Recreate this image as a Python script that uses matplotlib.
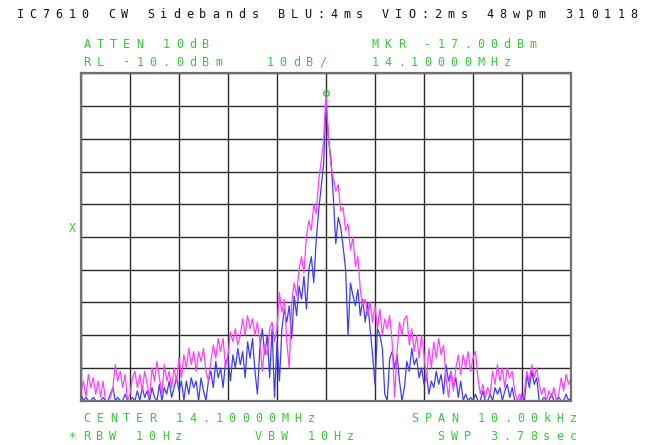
import numpy as np
import matplotlib.pyplot as plt

# frequency offset from 14.10000 MHz, in kHz (201 analyzer bins over the 10 kHz span)
freq_khz = np.linspace(-5, 5, 201)

# trace levels in dBm (magenta = upper trace, blue = lower trace)
magenta_db = [
    -107, -104, -109, -102, -106, -103, -108, -104, -109, -104,
    -110, -110, -109, -106, -99, -104, -101, -106, -102, -110,
    -108, -103, -101, -106, -102, -107, -101, -105, -109, -100,
    -104, -98, -103, -108, -99, -104, -101, -106, -100, -104,
    -97, -103, -96, -100, -94, -99, -95, -101, -95, -98,
    -94, -101, -104, -98, -93, -97, -91, -95, -91, -100,
    -96, -89, -92, -88, -93, -90, -85, -90, -84, -88,
    -85, -90, -86, -92, -101, -93, -96, -88, -86, -92,
    -88, -77, -83, -79, -92, -100, -80, -74, -78, -70,
    -66, -71, -60, -55, -58, -50, -53, -43, -37, -31,
    -16,
    -29, -38, -42, -46, -44, -52, -51, -58, -56, -64,
    -60, -69, -66, -76, -81, -79, -84, -80, -86, -81,
    -88, -82, -90, -85, -88, -84, -92, -109, -95, -86,
    -90, -85, -84, -93, -88, -95, -90, -97, -90, -96,
    -104, -94, -100, -92, -97, -91, -96, -93, -103, -109,
    -101, -107, -100, -96, -102, -96, -100, -95, -101, -97,
    -95, -103, -108, -105, -109, -106, -108, -101, -105, -99,
    -104, -100, -106, -100, -103, -101, -107, -110, -108, -110,
    -107, -101, -104, -99, -103, -100, -105, -108, -106, -110,
    -107, -109, -106, -110, -108, -103, -107, -102, -105, -103,
]

blue_db = [
    -108, -110, -109, -110, -110, -109, -110, -110, -110, -109,
    -110, -110, -108, -106, -110, -109, -110, -110, -108, -110,
    -110, -109, -110, -107, -110, -106, -109, -107, -110, -106,
    -109, -110, -105, -110, -106, -108, -104, -109, -106, -103,
    -107, -104, -110, -104, -108, -103, -106, -104, -110, -103,
    -107, -110, -104, -101, -106, -98, -103, -100, -106, -98,
    -97, -104, -96, -100, -94, -99, -95, -103, -92, -97,
    -91, -101, -108, -94, -88, -96, -90, -103, -88, -109,
    -92, -104, -88, -82, -86, -81, -91, -78, -84, -75,
    -79, -72, -82, -70, -66, -74, -61, -52, -45, -38,
    -19,
    -30, -36, -48, -62, -54, -57, -63, -70, -90, -74,
    -78, -81, -76, -84, -79, -86, -80, -88, -96, -105,
    -88, -90, -94, -108, -110, -97, -95, -100, -96, -104,
    -110, -106, -98, -101, -94, -99, -97, -103, -100, -105,
    -102, -108, -104, -106, -101, -105, -102, -108, -99, -104,
    -101, -106, -103, -109, -104, -110, -108, -110, -109, -110,
    -108, -110, -110, -107, -110, -110, -108, -110, -106, -108,
    -106, -110, -107, -105, -109, -106, -110, -110, -110, -108,
    -110, -102, -106, -101, -105, -103, -110, -110, -109, -110,
    -110, -108, -110, -110, -109, -110, -110, -108, -110, -109,
]

marker_khz = 0.0
marker_db = -16

W, H = 657, 445
green = '#33cc33'

fig = plt.figure(figsize=(W / 100, H / 100), dpi=100)
ax = fig.add_axes([81 / W, 1 - 400.7 / H, 490 / W, 327.4 / H])

ax.plot(freq_khz, blue_db, color='#3c3cff', lw=0.9)
ax.plot(freq_khz, magenta_db, color='#ff40ff', lw=0.9)
ax.plot([marker_khz], [marker_db], marker='o', ms=4, mfc='none',
        mec=green, mew=1.0)

ax.set_xlim(-5, 5)
ax.set_ylim(-110, -10)
ax.set_xticks(np.arange(-5, 6, 1))
ax.set_yticks(np.arange(-110, 0, 10))
ax.tick_params(length=0, labelbottom=False, labelleft=False)
ax.grid(True, color='#2a2a2a', lw=1.0)
for sp in ax.spines.values():
    sp.set_color('#707070')
    sp.set_linewidth(1.6)


def spaced(x0, y0, s, color, pitch=13.2, size=8.5):
    # screen text is drawn with a wide fixed character pitch
    for i, ch in enumerate(s):
        fig.text((x0 + i * pitch) / W, 1 - y0 / H, ch, color=color,
                 ha='center', va='center', fontsize=size,
                 family='DejaVu Sans Mono')


spaced(20, 14, 'IC7610 CW Sidebands BLU:4ms VIO:2ms 48wpm 310118', '#111111', pitch=13.06)
spaced(87, 45, 'ATTEN 10dB', green)
spaced(375, 45, 'MKR -17.00dBm', green)
spaced(87, 62, 'RL -10.0dBm', green)
spaced(270, 62, '10dB/', green)
spaced(375, 62, '14.10000MHz', green)
spaced(87, 419, 'CENTER 14.10000MHz', green)
spaced(415, 419, 'SPAN 10.00kHz', green)
spaced(73, 437, '*RBW 10Hz', green)
spaced(258, 437, 'VBW 10Hz', green)
spaced(441, 437, 'SWP 3.78sec', green)
spaced(72, 229, 'X', green)

fig.savefig('out.png', dpi=100)
